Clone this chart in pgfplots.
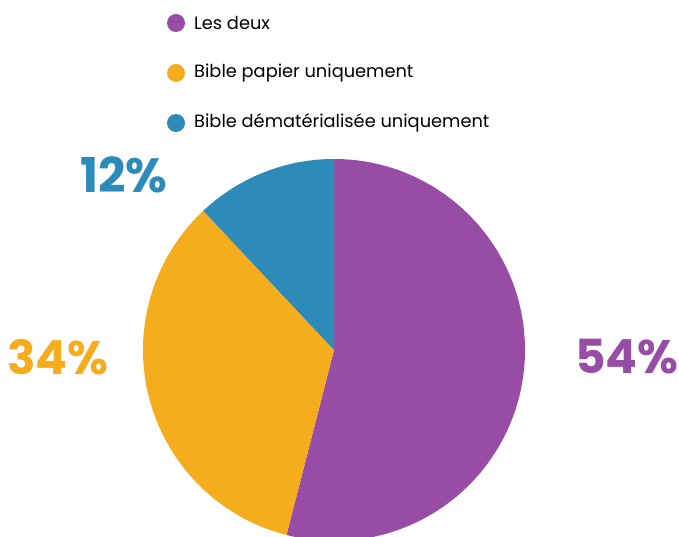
\documentclass[border=0pt]{standalone}
\usepackage{pgfplots}
\pgfplotsset{compat=1.18}
\usepackage{pgfplotstable}
\usepackage{fontspec}
\setmainfont{Poppins}
\definecolor{cpurple}{HTML}{974DA6}
\definecolor{cyellow}{HTML}{F5AD1E}
\definecolor{cblue}{HTML}{2D8BBA}
\pgfplotstableread{
name value
deux 54
papier 34
demat 12
}\piedata
\pgfplotstablegetelem{0}{value}\of\piedata \let\vA\pgfplotsretval
\pgfplotstablegetelem{1}{value}\of\piedata \let\vB\pgfplotsretval
\pgfplotstablegetelem{2}{value}\of\piedata \let\vC\pgfplotsretval
\pgfmathsetmacro\aA{90}
\pgfmathsetmacro\aB{\aA-\vA*3.6}
\pgfmathsetmacro\aC{\aB-\vB*3.6}
\pgfmathsetmacro\aD{\aC-\vC*3.6}
\begin{document}
\begin{tikzpicture}
\begin{axis}[x=1pt,y=1pt,xmin=0,xmax=679,ymin=0,ymax=536,hide axis,clip=true]
\path (axis cs:0,0) rectangle (axis cs:679,536);
\fill[cpurple] (axis cs:334,186) -- ++(\aA:191pt) arc[start angle=\aA, end angle=\aB, radius=191pt] -- cycle;
\fill[cyellow] (axis cs:334,186) -- ++(\aB:191pt) arc[start angle=\aB, end angle=\aC, radius=191pt] -- cycle;
\fill[cblue] (axis cs:334,186) -- ++(\aC:191pt) arc[start angle=\aC, end angle=\aD, radius=191pt] -- cycle;
% legend
\fill[cpurple] (axis cs:176,513) circle[radius=9pt];
\fill[cyellow] (axis cs:176,463) circle[radius=9pt];
\fill[cblue] (axis cs:176,413) circle[radius=9pt];
\node[anchor=west,font=\fontsize{17.8}{20}\selectfont,inner sep=0pt] at (axis cs:194,513) {Les deux};
\node[anchor=west,font=\fontsize{17.8}{20}\selectfont,inner sep=0pt] at (axis cs:194,463) {Bible papier uniquement};
\node[anchor=west,font=\fontsize{17.8}{20}\selectfont,inner sep=0pt] at (axis cs:194,413) {Bible dématérialisée uniquement};
% labels
\node[font=\fontsize{48}{52}\selectfont\bfseries,text=cblue,inner sep=0pt] at (axis cs:124,361) {\vC\%};
\node[font=\fontsize{47}{52}\selectfont\bfseries,text=cyellow,inner sep=0pt] at (axis cs:58,179) {\vB\%};
\node[font=\fontsize{47}{52}\selectfont\bfseries,text=cpurple,inner sep=0pt] at (axis cs:627,179) {\vA\%};
\end{axis}
\end{tikzpicture}
\end{document}
